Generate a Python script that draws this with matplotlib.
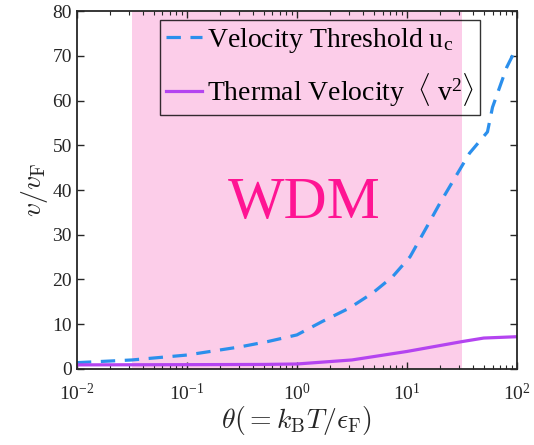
import numpy as np
import matplotlib
matplotlib.use('Agg')
import matplotlib.pyplot as plt
from matplotlib.ticker import LogLocator, NullFormatter, FuncFormatter

plt.rcParams['font.family'] = ['Liberation Serif', 'DejaVu Serif']
plt.rcParams['mathtext.fontset'] = 'custom'
plt.rcParams['mathtext.rm'] = 'Liberation Serif'
plt.rcParams['mathtext.it'] = 'Liberation Serif:italic'
plt.rcParams['mathtext.bf'] = 'Liberation Serif:bold'

# data
theta = [0.01, 0.0316, 0.1, 0.3, 0.54, 1.0, 1.7, 3.0, 4.9, 7.4, 10.7, 15.2, 20.0, 37.0, 54.0, 60.0, 81.0, 100.0]
u_c = [1.4, 2.0, 3.1, 4.9, 6.1, 7.6, 10.6, 13.6, 17.0, 20.6, 25.1, 31.8, 37.1, 48.2, 53.0, 58.5, 67.5, 72.0]
theta_th = [0.01, 0.1, 0.5, 1.0, 3.16, 10.0, 31.6, 50.0, 100.0]
v_th = [0.9, 0.95, 1.0, 1.1, 2.0, 3.9, 6.1, 6.9, 7.2]
wdm_range = [10**-1.5, 10**1.5]

fig = plt.figure(figsize=(5.34, 4.45), dpi=100)
ax = fig.add_axes([0.144, 0.171, 0.824, 0.804])

ax.axvspan(wdm_range[0], wdm_range[1], color='#fccde9', lw=0, zorder=0)
ax.plot(theta, u_c, color='#2b8fec', lw=2.3, dashes=(4.5, 3),
        label=r'Velocity Threshold u$_\mathrm{c}$')
ax.plot(theta_th, v_th, color='#b444f0', lw=2.3,
        label=r'Thermal Velocity  $\langle$ v$^2\rangle$')
ax.text(1.16, 33.7, 'WDM', color='#ff1493', fontsize=43, ha='center', va='baseline')

ax.set_xscale('log')
ax.set_xlim(1e-2, 1e2)
ax.set_ylim(0, 80)
ax.set_yticks(np.arange(0, 81, 10))
ax.xaxis.set_major_locator(LogLocator(base=10, numticks=10))
ax.xaxis.set_major_formatter(FuncFormatter(lambda v, p: r'$10^{%d}$' % round(np.log10(v))))
ax.xaxis.set_minor_locator(LogLocator(base=10, subs=np.arange(2, 10), numticks=20))
ax.xaxis.set_minor_formatter(NullFormatter())
ax.tick_params(which='both', direction='in', top=True, right=True, labelsize=14, colors='#262626')
ax.tick_params(which='major', length=5, width=1)
ax.tick_params(which='minor', length=3, width=0.8)
ax.tick_params(axis='x', pad=10)
for s in ax.spines.values():
    s.set_linewidth(1.3)
    s.set_color('#262626')

ax.set_xlabel(r'$\theta(=k_\mathrm{B}T/\epsilon_\mathrm{F})$', fontsize=20, labelpad=0,
              color='#262626', math_fontfamily='cm')
ax.set_ylabel(r'$v/v_\mathrm{F}$', fontsize=20, labelpad=2, color='#262626',
              math_fontfamily='cm')

leg = ax.legend(loc='upper left', bbox_to_anchor=(0.189, 0.975), borderaxespad=0,
                fontsize=20, frameon=True, fancybox=False, facecolor='none',
                edgecolor='black', handlelength=1.3, handletextpad=0.2,
                borderpad=0.2, labelspacing=0.6)
leg.get_frame().set_linewidth(1.0)

fig.savefig('out.png', dpi=100)
